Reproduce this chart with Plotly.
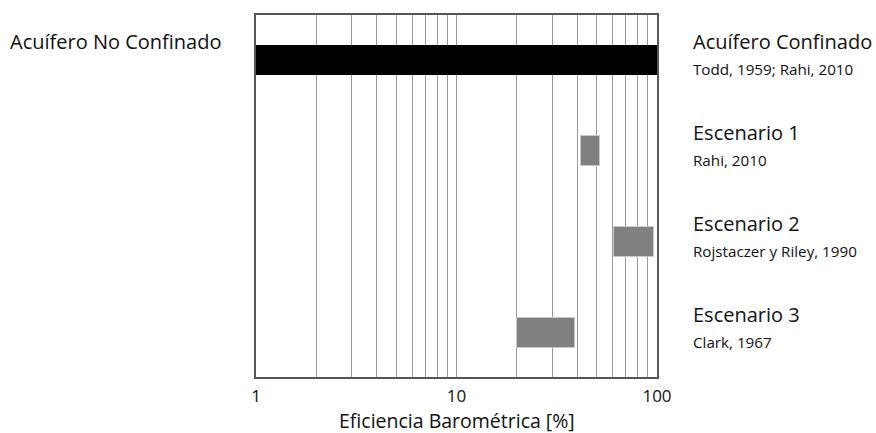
import plotly.graph_objects as go

# Data
rows = ["Acuífero Confinado", "Escenario 1", "Escenario 2", "Escenario 3"]
subtitles = ["Todd, 1959; Rahi, 2010", "Rahi, 2010", "Rojstaczer y Riley, 1990", "Clark, 1967"]
eb_min = [1, 42, 61, 20]
eb_max = [100, 52, 97, 39]
bar_colors = ["#000000", "#808080", "#808080", "#808080"]
row_pos = [0, 1, 2, 3]
left_label = "Acuífero No Confinado"
major_ticks = [1, 10, 100]
minor_ticks = [2, 3, 4, 5, 6, 7, 8, 9, 20, 30, 40, 50, 60, 70, 80, 90]
x_title = "Eficiencia Barométrica [%]"

FONT = "Open Sans, Noto Sans, sans-serif"
TXT = "#111111"

fig = go.Figure()
for i in range(len(rows)):
    fig.add_trace(go.Bar(
        orientation="h",
        y=[row_pos[i]],
        x=[eb_max[i] - eb_min[i]],
        base=[eb_min[i]],
        width=0.33,
        marker=dict(color=bar_colors[i],
                    line=dict(color="#000000" if i == 0 else "#c8c8c8", width=1 if i else 0)),
        showlegend=False,
        hoverinfo="skip",
    ))

annotations = []
for i in range(len(rows)):
    annotations.append(dict(text=rows[i], xref="paper", yref="y", x=1.085, y=row_pos[i] - 0.205,
                            xanchor="left", yanchor="middle", showarrow=False,
                            font=dict(size=20, color=TXT, family=FONT)))
    annotations.append(dict(text=subtitles[i], xref="paper", yref="y", x=1.086, y=row_pos[i] + 0.1,
                            xanchor="left", yanchor="middle", showarrow=False,
                            font=dict(size=15.2, color=TXT, family=FONT)))
annotations.append(dict(text=left_label, xref="paper", yref="y", x=-0.618, y=row_pos[0] - 0.2,
                        xanchor="left", yanchor="middle", showarrow=False,
                        font=dict(size=20, color=TXT, family=FONT)))
annotations.append(dict(text=x_title, xref="paper", yref="paper", x=0.5, y=-0.121,
                        xanchor="center", yanchor="middle", showarrow=False,
                        font=dict(size=19.5, color=TXT, family=FONT)))

fig.update_layout(
    width=876, height=433,
    margin=dict(l=256, r=219, t=15, b=56, autoexpand=False),
    paper_bgcolor="white", plot_bgcolor="white",
    font=dict(family=FONT, color=TXT),
    annotations=annotations,
    bargap=0,
    xaxis=dict(
        type="log", range=[0, 2], automargin=False,
        tickmode="array", tickvals=major_ticks, ticktext=[str(v) for v in major_ticks],
        tickfont=dict(size=17, color=TXT),
        ticklabelstandoff=3,
        showgrid=True, gridcolor="#999999", gridwidth=1,
        minor=dict(tickmode="array", tickvals=minor_ticks, showgrid=True,
                   gridcolor="#999999", gridwidth=1, ticks=""),
        ticks="", ticklen=0,
        showline=True, linecolor="#555555", linewidth=1.5, mirror=True,
        zeroline=False,
    ),
    yaxis=dict(
        range=[3.48, -0.495], automargin=False,
        showticklabels=False, ticks="", showgrid=False, zeroline=False,
        showline=True, linecolor="#555555", linewidth=1.5, mirror=True,
    ),
)

fig.write_html("out.html")
